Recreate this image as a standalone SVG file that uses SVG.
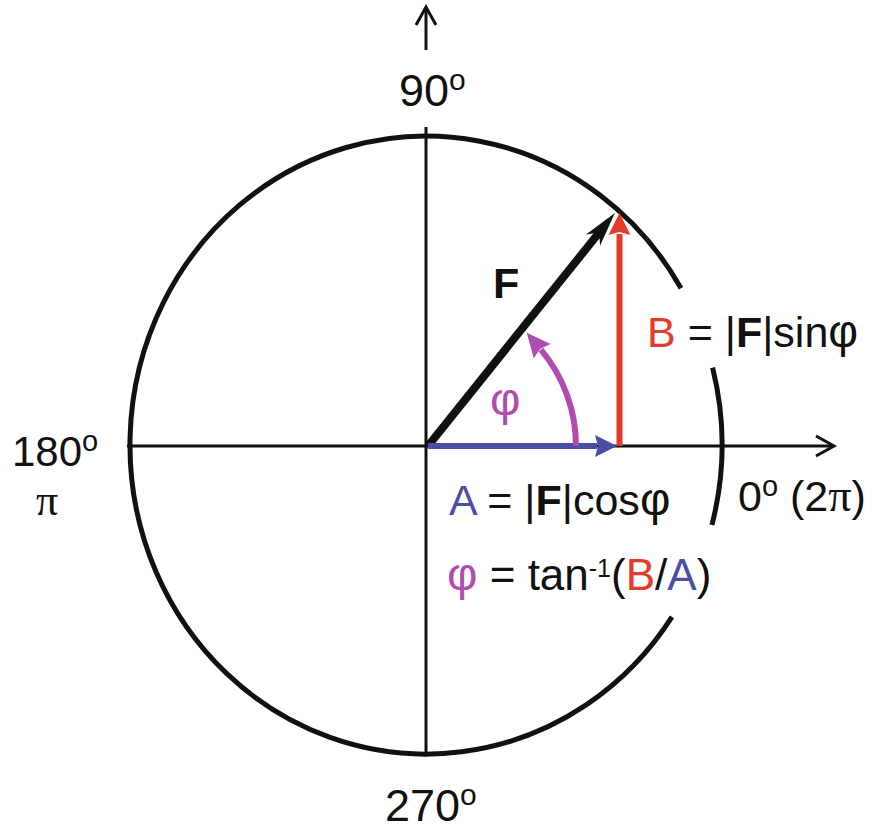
<svg xmlns="http://www.w3.org/2000/svg" width="877" height="831" viewBox="0 0 877 831">
<style>
text{font-family:"Liberation Sans",Arial,sans-serif;fill:#111}
.lbl{font-size:45px}
.eq{font-size:43px}
.b{font-weight:bold}
.red{fill:#e53b2a}
.blue{fill:#4a4ea6}
.purple{fill:#b04cb0}
.serif{font-family:"Liberation Serif","Times New Roman",serif}
.axis{stroke:#111;stroke-width:3;fill:none}
</style>
<defs>
<marker id="open" markerUnits="userSpaceOnUse" markerWidth="1" markerHeight="1" refX="0" refY="0" orient="auto" overflow="visible">
<path d="M-18,-10 L0,0 L-18,10" fill="none" stroke="#111" stroke-width="3" stroke-linejoin="miter"/>
</marker>
<marker id="headBlue" markerUnits="userSpaceOnUse" markerWidth="1" markerHeight="1" refX="0" refY="0" orient="auto" overflow="visible">
<path d="M20,0 L-2,-11 L1,0 L-2,11 Z" fill="#4a4ea6"/>
</marker>
<marker id="headRed" markerUnits="userSpaceOnUse" markerWidth="1" markerHeight="1" refX="0" refY="0" orient="auto" overflow="visible">
<path d="M21,0 L-1,-11 L2,0 L-1,11 Z" fill="#e53b2a"/>
</marker>
<marker id="headPurple" markerUnits="userSpaceOnUse" markerWidth="1" markerHeight="1" refX="0" refY="0" orient="auto" overflow="visible">
<path d="M22,0 L-2,-11 L1,0 L-2,11 Z" fill="#b04cb0"/>
</marker>
<marker id="headBlack" markerUnits="userSpaceOnUse" markerWidth="1" markerHeight="1" refX="0" refY="0" orient="auto" overflow="visible">
<path d="M20,0 L-15,-9 L-5,0 L-15,9 Z" fill="#111"/>
</marker>
</defs>

<g id="circle" fill="none" stroke="#111" stroke-width="5">
<path d="M681,288.2 A296,309 0 1 0 672,616.9"/>
<path d="M712.6,367.6 A296,309 0 0 1 711.9,525"/>
</g>

<g id="connectors">
<line class="axis" x1="127" y1="446" x2="834" y2="446" marker-end="url(#open)"/>
<line class="axis" x1="426" y1="127" x2="426" y2="753"/>
<line class="axis" x1="426" y1="50" x2="426" y2="7" marker-end="url(#open)"/>
<line id="vecF" x1="428" y1="446" x2="602.4" y2="228.5" stroke="#111" stroke-width="8" marker-end="url(#headBlack)"/>
<line id="vecA" x1="428" y1="446" x2="597" y2="446" stroke="#4a4ea6" stroke-width="6" marker-end="url(#headBlue)"/>
<line id="vecB" x1="619.5" y1="446" x2="619.5" y2="234" stroke="#e53b2a" stroke-width="6" marker-end="url(#headRed)"/>
<path id="arcPhi" d="M576,446 A150,150 0 0 0 540.9,349.6" fill="none" stroke="#b04cb0" stroke-width="6" marker-end="url(#headPurple)"/>
</g>

<g id="label90"><text class="lbl" x="399" y="106">90<tspan font-size="30" dy="-16">o</tspan></text></g>
<g id="label270"><text class="lbl" x="385" y="821">270<tspan font-size="30" dy="-16">o</tspan></text></g>
<g id="label180"><text font-size="42" x="12" y="466">180<tspan font-size="29" dy="-15">o</tspan></text>
<text class="serif" font-size="44" x="36" y="515">π</text></g>
<g id="label0"><text font-size="43" x="738" y="511">0<tspan font-size="29" dy="-15">o</tspan><tspan dy="15"> (2</tspan><tspan class="serif" font-size="46">π</tspan>)</text></g>
<g id="labelF"><text class="b" font-size="43" x="493" y="298">F</text></g>
<g id="labelPhi"><text class="purple" font-size="47" x="490" y="415">φ</text></g>
<g id="labelB"><text class="eq" x="647" y="347"><tspan class="red">B</tspan> = |<tspan class="b">F</tspan>|sin<tspan font-size="46">φ</tspan></text></g>
<g id="labelA"><text class="eq" font-size="44" x="449" y="515"><tspan class="blue">A</tspan> = |<tspan class="b">F</tspan>|cos<tspan font-size="47">φ</tspan></text></g>
<g id="labelTan"><text font-size="44" x="447" y="590"><tspan class="purple" font-size="47">φ</tspan> = tan<tspan font-size="25" dy="-13">-1</tspan><tspan dy="13">(</tspan><tspan class="red">B</tspan>/<tspan class="blue">A</tspan>)</text></g>
</svg>
